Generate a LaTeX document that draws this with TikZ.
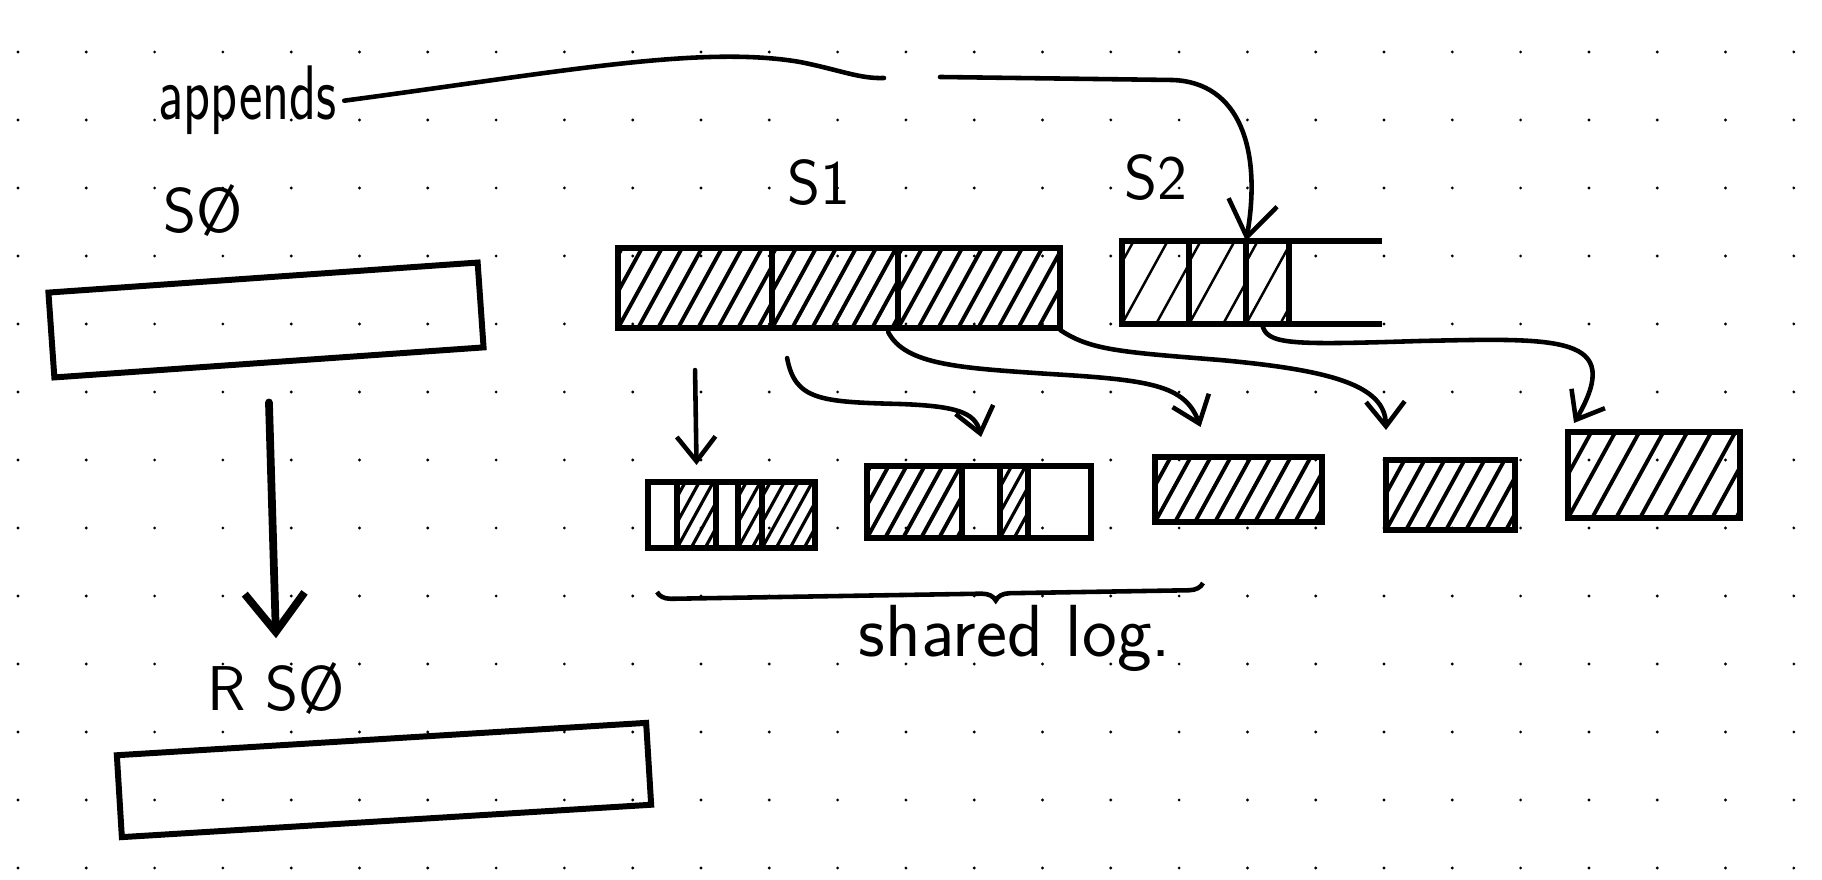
\documentclass[tikz,border=0pt]{standalone}
\usepackage{graphicx}
\usepackage{tikz}
\usetikzlibrary{positioning}
\usetikzlibrary{arrows.meta}
\usetikzlibrary{decorations.pathreplacing}

\begin{document}
\begin{tikzpicture} [
            x=0.01cm, y=-0.01cm,
            % ----- Node definitions ----- %
            logcell/.style 2 args = {
                draw,
                rectangle,
                line width=1.7pt,
                inner sep=0pt,
                outer sep=0pt,
                minimum width=#1,
                minimum height=#2
            },
            hatched/.style 2 args = {
                path picture={
                    \foreach \k in {-7,...,16}
                        \draw[line width=#1] (path picture bounding box.south west)
                            ++(\k*#2,0) -- ++(55,-100);
                }
            },
            handtext/.style = {
                font=\sffamily\fontsize{18}{20}\selectfont,
                inner sep=2pt
            },
            % ----- Edge definitions ----- %
            arr/.style = {
                -{Straight Barb[length=7pt,width=11pt]},
                line width=1.3pt,
                line cap=round
            },
            bigarr/.style = {
                -{Straight Barb[length=11pt,width=17pt]},
                line width=2.2pt,
                line cap=round
            },
            logbrace/.style = {
                decorate,
                decoration={brace, mirror, amplitude=4pt, aspect=0.62},
                line width=1.3pt
            }
    ]

        \useasboundingbox (0,0) rectangle (1822,880);

        % ----- Dot grid ----- %
        \foreach \i in {0,...,26}
            \foreach \j in {0,...,12}
                \fill (18+\i*68.3, 52+\j*68) circle[radius=0.45pt];

        % ----- Node constructions ----- %
        \node [handtext, anchor=base west] (appends) at (151,120)
            {\scalebox{0.72}[1]{\fontsize{22}{24}\selectfont appends}};

        % S0 and its copy
        \node [handtext, anchor=base] (s0lbl) at (203,233) {S\O};
        \node [logcell={4.3cm}{0.85cm}, rotate=4] (s0box) at (266,320) {};
        \node [handtext, anchor=base] (rs0lbl) at (276,710) {R S\O};
        \node [logcell={5.3cm}{0.82cm}, rotate=3.5] (rs0box) at (384,780) {};

        % S1
        \node [handtext, anchor=base] (s1lbl) at (819,205) {S1};
        \node [logcell={1.54cm}{0.8cm}, hatched={1.1pt}{20}, anchor=north west] (s1a) at (618,248) {};
        \node [logcell={1.26cm}{0.8cm}, hatched={1.1pt}{20}, right=0pt of s1a] (s1b) {};
        \node [logcell={1.62cm}{0.8cm}, hatched={1.1pt}{20}, right=0pt of s1b] (s1c) {};

        % S2
        \node [handtext, anchor=base] (s2lbl) at (1156,200) {S2};
        \node [logcell={0.67cm}{0.83cm}, hatched={0.7pt}{34}, anchor=north west] (s2a) at (1122,241) {};
        \node [logcell={0.57cm}{0.83cm}, hatched={0.7pt}{34}, right=0pt of s2a] (s2b) {};
        \node [logcell={0.43cm}{0.83cm}, hatched={0.7pt}{34}, right=0pt of s2b] (s2c) {};
        \coordinate (s2end) at (1382,0);
        \draw[line width=1.7pt] (s2c.north east) -- (s2end |- s2c.north east);
        \draw[line width=1.7pt] (s2c.south east) -- (s2end |- s2c.south east);

        % shared log
        \node [logcell={0.29cm}{0.66cm}, anchor=north west] (aa) at (648,482) {};
        \node [logcell={0.39cm}{0.66cm}, hatched={0.9pt}{14}, right=0pt of aa] (ab) {};
        \node [logcell={0.22cm}{0.66cm}, right=0pt of ab] (ac) {};
        \node [logcell={0.24cm}{0.66cm}, hatched={0.9pt}{14}, right=0pt of ac] (ad) {};
        \node [logcell={0.53cm}{0.66cm}, hatched={0.9pt}{14}, right=0pt of ad] (ae) {};

        \node [logcell={0.95cm}{0.72cm}, hatched={1.1pt}{18}, anchor=north west] (ba) at (867,466) {};
        \node [logcell={0.38cm}{0.72cm}, right=0pt of ba] (bb) {};
        \node [logcell={0.28cm}{0.72cm}, hatched={0.9pt}{14}, right=0pt of bb] (bc) {};
        \node [logcell={0.63cm}{0.72cm}, right=0pt of bc] (bd) {};

        \node [logcell={1.67cm}{0.65cm}, hatched={1.1pt}{20}, anchor=north west] (boxC) at (1155,457) {};
        \node [logcell={1.29cm}{0.70cm}, hatched={1.1pt}{20}, anchor=north west] (boxD) at (1386,460) {};
        \node [logcell={1.72cm}{0.86cm}, hatched={1.1pt}{24}, anchor=north west] (boxE) at (1568,432) {};

        \coordinate (logL) at (657,592);
        \coordinate (logR) at (1203,583);
        \draw[logbrace] (logL) -- (logR);
        \node [handtext, font=\sffamily\fontsize{21}{24}\selectfont, anchor=base] (sharedlbl) at (1015,657) {shared log.};

        % ----- Edges ----- %
        \draw[arr, -{Straight Barb[length=10pt,width=14pt]}] (appends.east)
            .. controls (560,72) and (700,45) .. (800,62)
            .. controls (840,70) and (860,79) .. (884,78)
            (940,77) -- (1172,80)
            .. controls (1240,82) and (1262,150) .. (s2b.north east);

        \draw[bigarr] ([yshift=-0.4cm]s0box.south) -- ([yshift=0.16cm]rs0lbl.north);

        \draw[arr] ([yshift=-0.42cm]s1a.south) -- ([yshift=0.17cm]ab.north);
        \draw[arr] ([xshift=0.15cm,yshift=-0.3cm]s1a.south east)
            .. controls (795,400) and (820,402) .. (900,404)
            .. controls (955,406) and (975,412) .. ([yshift=0.29cm]bb.north);
        \draw[arr] ([xshift=-0.1cm,yshift=-0.04cm]s1c.south west)
            .. controls (905,365) and (960,368) .. (1050,374)
            .. controls (1150,380) and (1185,385) .. ([xshift=-0.38cm,yshift=0.3cm]boxC.north);
        \draw[arr] ([yshift=-0.02cm]s1c.south east)
            .. controls (1090,350) and (1120,352) .. (1220,360)
            .. controls (1330,370) and (1385,385) .. ([yshift=0.3cm]boxD.north west);
        \draw[arr] ([xshift=0.16cm]s2c.south west)
            .. controls (1266,345) and (1290,345) .. (1420,341)
            .. controls (1560,338) and (1625,335) .. ([xshift=0.06cm,yshift=0.09cm]boxE.north west);

\end{tikzpicture}
\end{document}
